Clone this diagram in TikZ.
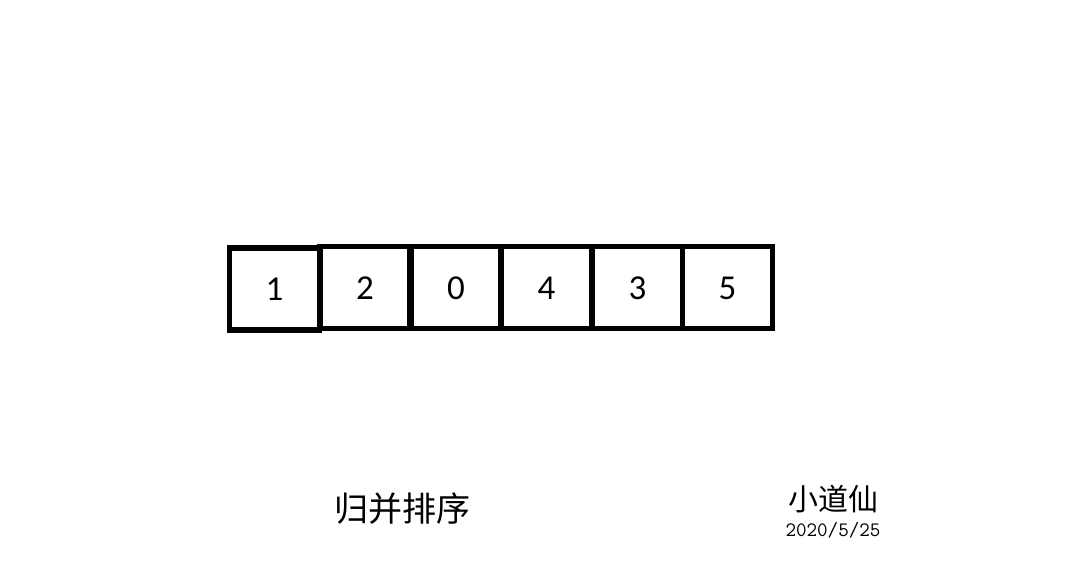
\documentclass[tikz,border=0pt]{standalone}
\usepackage{fontspec}
\setmainfont{Carlito}
\newfontfamily\cjk{Noto Sans CJK SC}
\begin{document}
\begin{tikzpicture}[x=1pt,y=-1pt,
  cell/.style={draw=black,line width=5.5pt,minimum width=90pt,minimum height=82pt,inner sep=0pt,text height=23pt,text depth=0pt,font=\fontsize{35}{35}\selectfont}]
\useasboundingbox[fill=white] (0,0) rectangle (1092,582);
\node[cell] (c1) at (274.5,289) {1};
\node[cell] (c2) at (365,287.5) {2};
\node[cell] (c3) at (456,287.5) {0};
\node[cell] (c4) at (546.5,287.5) {4};
\node[cell] (c5) at (637.5,287.5) {3};
\node[cell] (c6) at (727.5,287.5) {5};
\node[font=\cjk\fontsize{34}{34}\selectfont,inner sep=0pt] (title) at (402,509) {归并排序};
\node[font=\cjk\fontsize{30}{30}\selectfont,inner sep=0pt] (author) at (833,499) {小道仙};
\node[font=\ttfamily\fontsize{20.5}{20.5}\selectfont,inner sep=0pt] (date) at (833,530) {2020/5/25};
\end{tikzpicture}
\end{document}
